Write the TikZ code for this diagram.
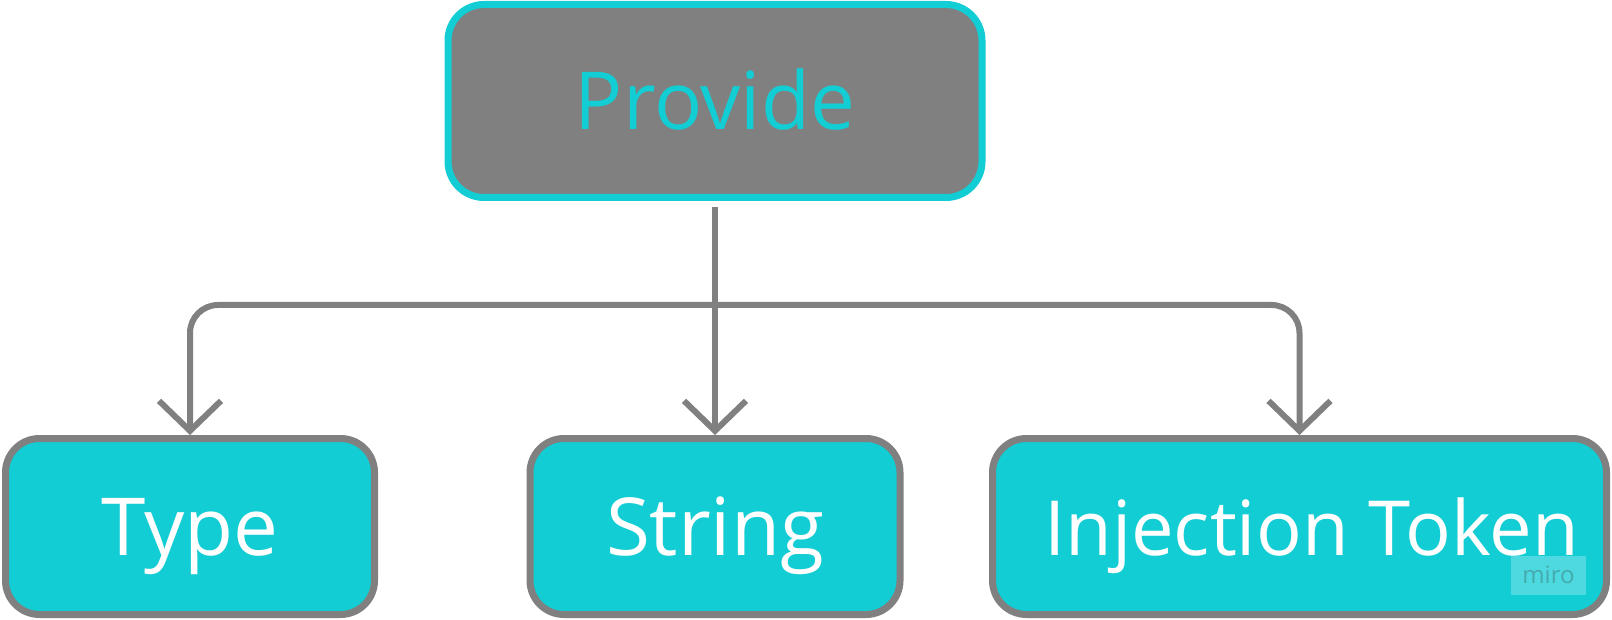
\documentclass[tikz,border=0pt]{standalone}
\usepackage{fontspec}
\setmainfont{Open Sans}
\usetikzlibrary{calc,arrows.meta}
\definecolor{mirocyan}{HTML}{12CDD4}
\definecolor{mirogray}{HTML}{808080}
\tikzset{
  rootbox/.style={draw=mirocyan,fill=mirogray,text=mirocyan,line width=3.5pt,rounded corners=18pt,
    minimum width=267pt,minimum height=96.5pt,text height=28.5pt,text depth=0pt,font=\fontsize{40}{48}\selectfont},
  leafbox/.style={draw=mirogray,fill=mirocyan,text=white,line width=3.5pt,rounded corners=17pt,
    minimum height=88pt,text height=28.5pt,text depth=0pt,font=\fontsize{40}{48}\selectfont},
  link/.style={draw=mirogray,line width=3pt,-{Straight Barb[length=15pt,width=31pt]}}
}
\begin{document}
\begin{tikzpicture}[x=0.5pt,y=-0.5pt]
  \useasboundingbox (0,0) rectangle (1612,620);
  \node[rootbox](provide)at(715,101){Provide};
  \node[leafbox,minimum width=184.5pt](type)at(190,526.5){Type};
  \node[leafbox,minimum width=185pt](string)at(715,526.5){String};
  \node[leafbox,minimum width=307pt](token)at(1299.5,526.5){\hspace*{12pt}\fontsize{38}{46}\selectfont Injection Token};
  \node[fill=mirocyan!75!white,text=mirogray!45!mirocyan,minimum width=37.5pt,minimum height=19.5pt,
    inner sep=0pt,font=\fontsize{12}{14}\selectfont](miro)at(1548.5,575){miro};
  % connectors
  \coordinate (split) at ($(provide.south)!0.5!(string.north)+(0,-13)$);
  \draw[link,shorten <=3pt](provide.south)--(string.north);
  \draw[link,rounded corners=14pt](split)-|(type.north);
  \draw[link,rounded corners=14pt](split)-|(token.north);
\end{tikzpicture}
\end{document}
